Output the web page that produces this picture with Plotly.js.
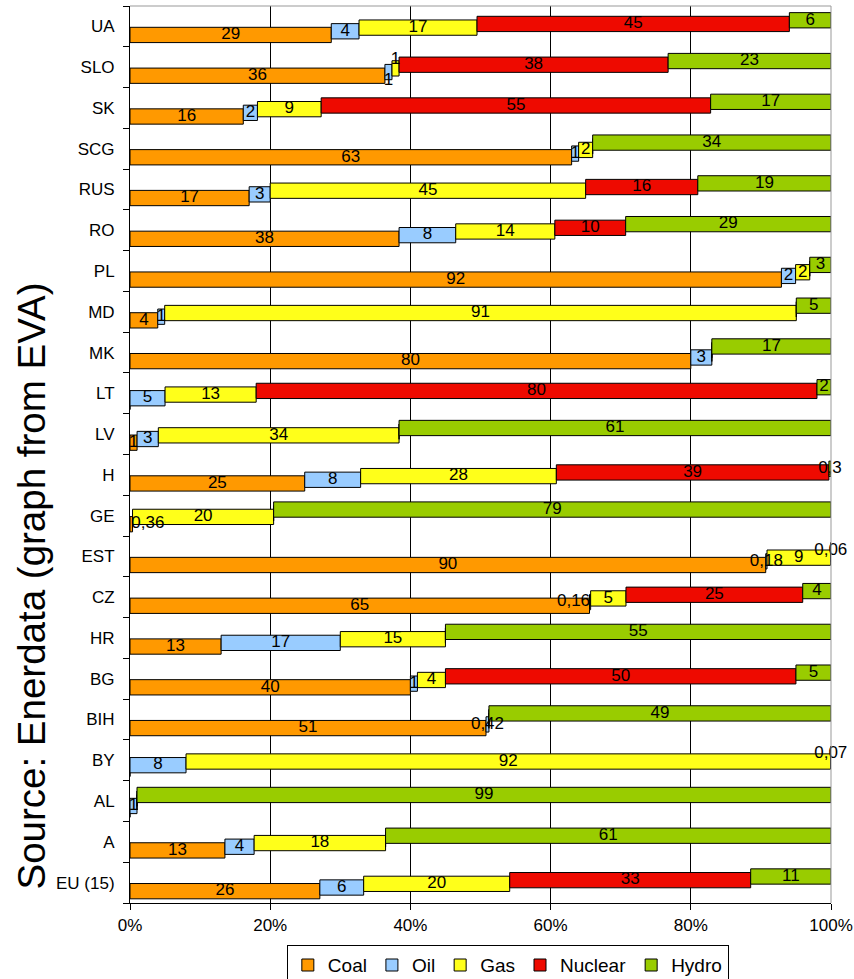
<!DOCTYPE html>
<html><head><meta charset="utf-8">
<script src="https://cdn.plot.ly/plotly-3.0.1.min.js"></script>
<style>html,body{margin:0;padding:0;background:#fff;overflow:hidden}#chart{width:854px;height:1000px}</style>
</head><body><div id="chart"></div>
<script>
// Categories, top to bottom as in the chart
const countries = ["UA","SLO","SK","SCG","RUS","RO","PL","MD","MK","LT","LV","H","GE","EST","CZ","HR","BG","BIH","BY","AL","A","EU (15)"];
// Shares (%) per energy source, same order as countries
const coal    = [29,36,16,63,17,38,92,4,80,0,1,25,0.36,90,65,13,40,51,0,0,13,26];
const oil     = [4,1,2,1,3,8,2,1,3,5,3,8,0,0.18,0.16,17,1,0.42,8,1,4,6];
const gas     = [17,1,9,2,45,14,2,91,0,13,34,28,20,9,5,15,4,0,92,0,18,20];
const nuclear = [45,38,55,0,16,10,0,0,0,80,0,39,0,0,25,0,50,0,0,0,0,33];
const hydro   = [6,23,17,34,19,29,3,5,17,2,61,0.3,79,0.06,4,55,5,49,0.07,99,61,11];
const seriesNames = ["Coal","Oil","Gas","Nuclear","Hydro"];
const xTickVals = [0,20,40,60,80,100];
const xTickText = ["0%","20%","40%","60%","80%","100%"];
const sourceText = "Source: Enerdata (graph from EVA)";

// styles
const colors = ["#FF9900","#99CCFF","#FFFF1A","#EE0A00","#99CC00"];
const shifts = [-0.21,-0.12,-0.03,0.06,0.15];   // vertical staircase offset per series
const barW = 0.375;
// labels placed beside their tiny bar
const labelPlacement = {"GE|Coal":"middle right", "SLO|Oil":"bottom center", "SLO|Gas":"top center", "CZ|Oil":"middle left"};

const series = [coal, oil, gas, nuclear, hydro];
const n = countries.length;
const yPos = countries.map((c,i) => n-1-i);
const totals = countries.map((c,i) => series.reduce((s,arr)=>s+arr[i],0));
const fmt = v => String(v).replace('.', ',');

const traces = [];
const cum = countries.map(()=>0);
const tx = [], ty = [], tt = [], tp = [];
series.forEach((arr, s) => {
  const xs = arr.map((v,i)=> v/totals[i]*100);
  const bases = cum.slice();
  traces.push({
    type:'bar', orientation:'h', name: seriesNames[s],
    x: xs, y: yPos, base: bases,
    width: barW, offset: shifts[s]-barW/2,
    marker:{color: colors[s], line:{color:'#000', width:1}},
    hoverinfo:'skip'
  });
  arr.forEach((v,i)=>{
    if (v > 0) {
      tx.push(bases[i] + xs[i]/2);
      ty.push(yPos[i] + shifts[s]);
      tt.push(fmt(v));
      tp.push(labelPlacement[countries[i]+'|'+seriesNames[s]] || 'middle center');
    }
    cum[i] += xs[i];
  });
});
traces.push({
  type:'scatter', mode:'text', x: tx, y: ty, text: tt,
  textposition: tp, textfont:{size:17, color:'#000', family:'Liberation Sans, Arial, sans-serif'},
  cliponaxis:false, showlegend:false, hoverinfo:'skip'
});

const halfs = [];
for (let k=0; k<=n; k++) halfs.push(k-0.5);

const layout = {
  width:854, height:1000,
  margin:{l:130, r:23, t:6, b:97},
  paper_bgcolor:'#fff', plot_bgcolor:'#fff',
  barmode:'overlay',
  font:{family:'Liberation Sans, Arial, sans-serif', color:'#000'},
  showlegend:true,
  xaxis:{range:[0,100], tickvals:xTickVals, ticktext:xTickText, ticks:'outside', ticklen:6, tickcolor:'#000',
         showline:true, linecolor:'#000', linewidth:1, showgrid:true, gridcolor:'#000', gridwidth:1,
         zeroline:false, tickfont:{size:17}, ticklabelstandoff:1, fixedrange:true},
  yaxis:{range:[-0.5, n-0.5], tickvals:yPos, ticktext:countries, ticks:'', showline:true, linecolor:'#000', linewidth:1,
         showgrid:false, zeroline:false, tickfont:{size:17}, ticklabelstandoff:11, fixedrange:true,
         minor:{tickvals:halfs, ticks:'outside', ticklen:6, tickcolor:'#000', showgrid:false}},
  legend:{orientation:'h', x:0.539, xanchor:'center', y:-0.047, yanchor:'top', bordercolor:'#000', borderwidth:1,
          bgcolor:'#fff', font:{size:19}, traceorder:'normal'},
  shapes:[
    {type:'line', xref:'paper', yref:'paper', x0:0, x1:1, y0:1, y1:1, line:{color:'#999', width:1}, layer:'above'},
    {type:'line', xref:'paper', yref:'paper', x0:1, x1:1, y0:0, y1:1, line:{color:'#999', width:1}, layer:'above'}
  ],
  annotations:[{text:sourceText, xref:'paper', yref:'paper', x:-0.141, y:0.353, textangle:-90, showarrow:false,
                font:{size:38.5, color:'#000'}, xanchor:'center', yanchor:'middle'}]
};

Plotly.newPlot('chart', traces, layout, {displayModeBar:false, staticPlot:true});
</script>
</body></html>
